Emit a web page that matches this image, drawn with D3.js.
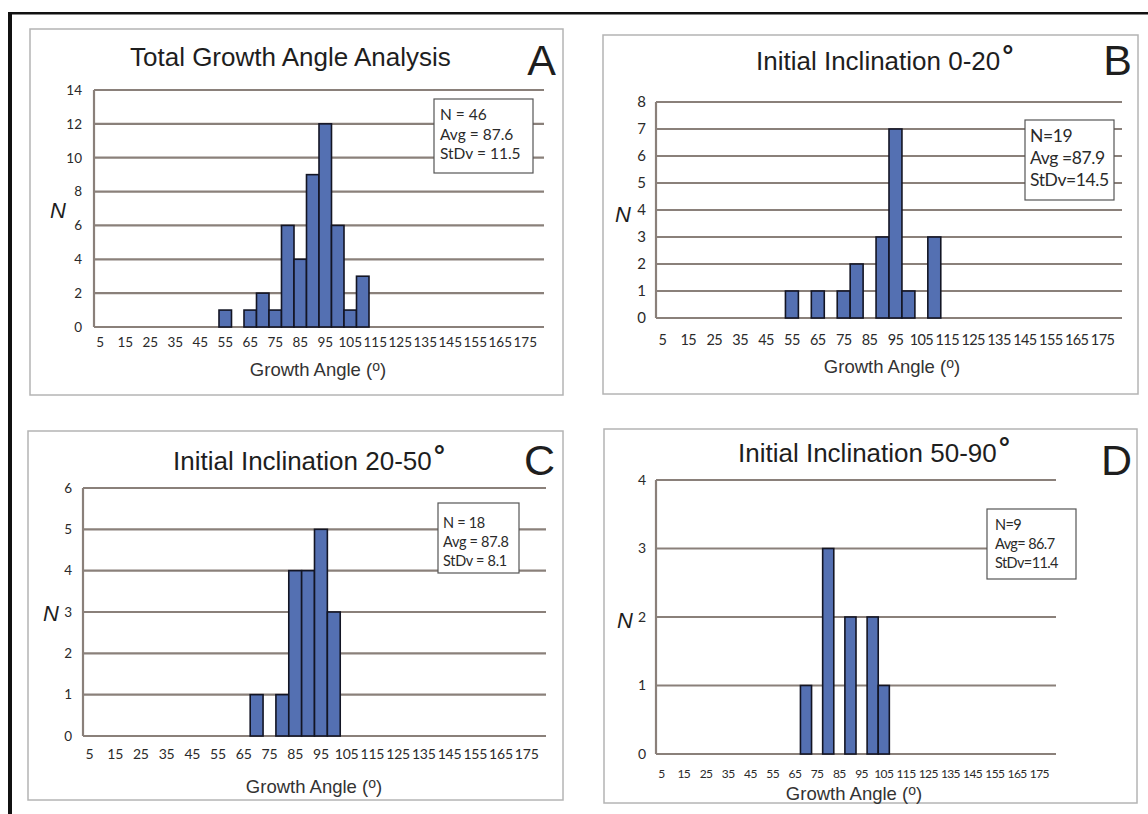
<!DOCTYPE html>
<html>
<head>
<meta charset="utf-8">
<script src="https://cdn.jsdelivr.net/npm/d3@7"></script>
<style>
  body { margin: 0; background: #fff; }
  svg { display: block; }
  text { font-family: "Liberation Sans", Arial, sans-serif; fill: #1e1e1e; }
  .tick text, .stat { font-family: Lato, "Open Sans", sans-serif; fill: #2a2a2a; }
</style>
</head>
<body>
<svg id="chart" width="1148" height="814"></svg>
<script>
// bin labels (growth angle, degrees) - one bar per 5 degree bin
const categories = [5, 10, 15, 20, 25, 30, 35, 40, 45, 50, 55, 60, 65, 70, 75, 80, 85, 90,
                    95, 100, 105, 110, 115, 120, 125, 130, 135, 140, 145, 150, 155, 160, 165, 170, 175, 180];
const tickLabels = [5, 15, 25, 35, 45, 55, 65, 75, 85, 95, 105, 115, 125, 135, 145, 155, 165, 175];

// counts per bin
const countsA = [0, 0, 0, 0, 0, 0, 0, 0, 0, 0, 1, 0, 1, 2, 1, 6, 4, 9, 12, 6, 1, 3, 0, 0, 0, 0, 0, 0, 0, 0, 0, 0, 0, 0, 0, 0];
const countsB = [0, 0, 0, 0, 0, 0, 0, 0, 0, 0, 1, 0, 1, 0, 1, 2, 0, 3, 7, 1, 0, 3, 0, 0, 0, 0, 0, 0, 0, 0, 0, 0, 0, 0, 0, 0];
const countsC = [0, 0, 0, 0, 0, 0, 0, 0, 0, 0, 0, 0, 0, 1, 0, 1, 4, 4, 5, 3, 0, 0, 0, 0, 0, 0, 0, 0, 0, 0, 0, 0, 0, 0, 0, 0];
const countsD = [0, 0, 0, 0, 0, 0, 0, 0, 0, 0, 0, 0, 0, 1, 0, 3, 0, 2, 0, 2, 1, 0, 0, 0, 0, 0, 0, 0, 0, 0, 0, 0, 0, 0, 0, 0];

const yMaxes = [14, 8, 6, 4];
const yTickSteps = [2, 1, 1, 1];
const titles = ["Total Growth Angle Analysis", "Initial Inclination 0-20", "Initial Inclination 20-50", "Initial Inclination 50-90"];
const titleDegree = [false, true, true, true];
const panelLetters = ["A", "B", "C", "D"];
const statsA = ["N = 46", "Avg = 87.6", "StDv = 11.5"];
const statsB = ["N=19", "Avg =87.9", "StDv=14.5"];
const statsC = ["N = 18", "Avg = 87.8", "StDv = 8.1"];
const statsD = ["N=9", "Avg= 86.7", "StDv=11.4"];
const xTitle = "Growth Angle (";

// page layout, one entry per panel
const layout = [
  { frame: [30, 29, 563, 395], plot: [94, 90, 544, 327], titleX: 130, titleY: 66, letterX: 556, letterY: 75,
    nX: 58, nY: 218, yLabX: 82, yFont: 13.5, tickFont: 13.5, tickSpacing: 0, xLabY: 347, gaX: 318, gaY: 376,
    box: [434, 99, 533, 173], statX: 440, statY: [120, 140, 159], statFont: 15.5, statSpacing: 0 },
  { frame: [603, 35, 1138, 394], plot: [656, 102, 1122, 318], titleX: 756, titleY: 70, letterX: 1132, letterY: 75,
    nX: 623, nY: 222, yLabX: 646, yFont: 15, tickFont: 14.5, tickSpacing: -0.6, xLabY: 345, gaX: 892, gaY: 373,
    box: [1025, 120, 1114, 200], statX: 1030, statY: [142, 164, 186], statFont: 17.5, statSpacing: -0.4 },
  { frame: [28, 431, 563, 800], plot: [83, 488, 546, 736], titleX: 173, titleY: 470, letterX: 555, letterY: 475,
    nX: 51, nY: 621, yLabX: 72, yFont: 13.5, tickFont: 14, tickSpacing: -0.2, xLabY: 759, gaX: 314, gaY: 793,
    box: [438, 503, 519, 573], statX: 443, statY: [528, 547, 566], statFont: 14.5, statSpacing: -0.3 },
  { frame: [604, 429, 1137, 803], plot: [656, 480, 1056, 754], titleX: 738, titleY: 462, letterX: 1132, letterY: 475,
    nX: 625, nY: 628, yLabX: 646, yFont: 14, tickFont: 12, tickSpacing: -0.6, xLabY: 777.5, gaX: 854, gaY: 800,
    box: [987, 509, 1076, 579], statX: 995, statY: [530, 549, 568], statFont: 14.5, statSpacing: -0.6 }
];

const allCounts = [countsA, countsB, countsC, countsD];
const allStats = [statsA, statsB, statsC, statsD];

const svg = d3.select("#chart");

// black figure border (top and left only)
svg.append("rect").attr("x", 8).attr("y", 12).attr("width", 1140).attr("height", 2.5).attr("fill", "#111");
svg.append("rect").attr("x", 8).attr("y", 12).attr("width", 4).attr("height", 802).attr("fill", "#111");

layout.forEach((L, i) => {
  const g = svg.append("g");
  const counts = allCounts[i];
  const [px0, py0, px1, py1] = L.plot;

  g.append("rect")
    .attr("x", L.frame[0]).attr("y", L.frame[1])
    .attr("width", L.frame[2] - L.frame[0]).attr("height", L.frame[3] - L.frame[1])
    .attr("fill", "#fff").attr("stroke", "#b4b4b4").attr("stroke-width", 1.5);

  const x = d3.scaleBand().domain(categories).range([px0, px1]).padding(0);
  const y = d3.scaleLinear().domain([0, yMaxes[i]]).range([py1, py0]);
  const yTicks = d3.range(0, yMaxes[i] + 0.001, yTickSteps[i]);

  // gridlines
  g.selectAll("line.grid").data(yTicks).join("line")
    .attr("class", "grid")
    .attr("x1", px0).attr("x2", px1)
    .attr("y1", d => y(d)).attr("y2", d => y(d))
    .attr("stroke", "#8a807a").attr("stroke-width", 2.2);
  g.append("line")
    .attr("x1", px0).attr("x2", px0).attr("y1", py0).attr("y2", py1)
    .attr("stroke", "#8a807a").attr("stroke-width", 2.2);

  // bars
  g.selectAll("rect.bar").data(categories.map((c, k) => ({ c, v: counts[k] })).filter(d => d.v > 0)).join("rect")
    .attr("class", "bar")
    .attr("x", d => x(d.c)).attr("width", x.bandwidth())
    .attr("y", d => y(d.v)).attr("height", d => y(0) - y(d.v))
    .attr("fill", "#5470b2").attr("stroke", "#131524").attr("stroke-width", 1.6);

  // y tick labels
  const yAxis = g.append("g").attr("transform", `translate(${L.yLabX + 6},0)`)
    .call(d3.axisLeft(y).tickValues(yTicks).tickSize(0).tickPadding(6).tickFormat(d3.format("d")));
  yAxis.select(".domain").remove();
  yAxis.selectAll("text").style("font-size", L.yFont + "px");

  // x tick labels
  const xAxis = g.append("g").attr("transform", `translate(0,${L.xLabY - L.tickFont * 0.75})`)
    .call(d3.axisBottom(x).tickValues(tickLabels).tickSize(0).tickPadding(0));
  xAxis.select(".domain").remove();
  xAxis.selectAll("text").style("font-size", L.tickFont + "px")
    .style("letter-spacing", L.tickSpacing + "px").attr("dy", "0.75em");

  // italic N
  g.append("text").attr("x", L.nX).attr("y", L.nY).attr("text-anchor", "middle")
    .style("font-size", "22px").style("font-style", "italic").text("N");

  // title
  const t = g.append("text").attr("x", L.titleX).attr("y", L.titleY)
    .style("font-size", "26px").text(titles[i]);
  if (titleDegree[i]) {
    t.append("tspan").attr("dy", -5).attr("dx", 2).style("font-size", "28px").style("font-weight", "bold").text("°");
  }

  // panel letter
  g.append("text").attr("x", L.letterX).attr("y", L.letterY).attr("text-anchor", "end")
    .style("font-size", "43px").text(panelLetters[i]);

  // x axis title
  const ga = g.append("text").attr("x", L.gaX).attr("y", L.gaY).attr("text-anchor", "middle")
    .style("font-size", "18.5px").style("fill", "#333").text(xTitle);
  ga.append("tspan").attr("dy", -5).style("font-size", "14px").text("o");
  ga.append("tspan").attr("dy", 5).text(")");

  // stats box
  g.append("rect")
    .attr("x", L.box[0]).attr("y", L.box[1])
    .attr("width", L.box[2] - L.box[0]).attr("height", L.box[3] - L.box[1])
    .attr("fill", "#fff").attr("stroke", "#555").attr("stroke-width", 1.2);
  g.selectAll("text.stat").data(allStats[i]).join("text")
    .attr("class", "stat")
    .attr("x", L.statX).attr("y", (d, k) => L.statY[k])
    .style("font-size", L.statFont + "px").style("letter-spacing", L.statSpacing + "px")
    .text(d => d);
});
</script>
</body>
</html>
